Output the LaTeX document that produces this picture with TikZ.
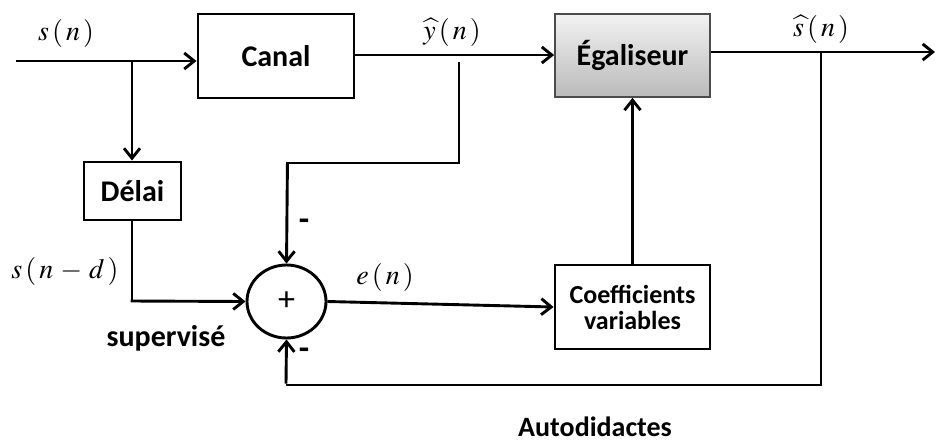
\documentclass[tikz,border=0pt]{standalone}
\usepackage{mathptmx}
\usepackage{fontspec}
\setmainfont{Carlito}
\usetikzlibrary{arrows.meta,shapes.geometric}
\begin{document}
\begin{tikzpicture}[x=1pt,y=-1pt,
  wire/.style={line width=2.9pt},
  arr/.style={wire,-{Straight Barb[length=10pt,width=16pt,line width=2.9pt]}},
  blockbox/.style={draw,line width=2.9pt,inner sep=0pt,font=\bfseries\fontsize{30}{33}\selectfont},
  mlab/.style={inner sep=0pt,font=\fontsize{28}{30}\selectfont},
  tlab/.style={inner sep=0pt,font=\bfseries\fontsize{29}{32}\selectfont}]
\useasboundingbox (0,0) rectangle (936,442);
% blocks
\node[blockbox,minimum width=156pt,minimum height=84pt] (canal) at (276,56) {Canal};
\node[blockbox,draw=black!70,line width=1.7pt,minimum width=155pt,minimum height=83pt,
  top color=black!5,bottom color=black!27] (egal) at (632.5,55.5) {Égaliseur};
\node[blockbox,minimum width=97pt,minimum height=58pt] (delai) at (132.5,191) {Délai};
\node[blockbox,minimum width=155pt,minimum height=84pt,align=center,
  font=\bfseries\fontsize{26}{29}\selectfont] (coef) at (632.5,307) {Coefficients\\[-3pt]variables};
\node[draw,ellipse,line width=2.9pt,minimum width=79pt,minimum height=73pt,inner sep=0pt,
  font=\fontsize{34}{36}\selectfont] (sum) at (286.5,301.5) {+};
% coordinates
\coordinate (in) at (16,61);
\coordinate (br1) at (132,61);
\coordinate (br2) at (459,62);
\coordinate (br2c) at (459,163);
\coordinate (br2d) at (286,163);
\coordinate (out) at (935,52);
\coordinate (br3) at (821,52);
\coordinate (br3c) at (821,385);
\coordinate (br3d) at (286,385);
\coordinate (dl) at (132,301);
% connectors
\draw[arr] (in) -- (canal.west |- in);
\draw[arr] (br1) -- (delai.north -| br1);
\draw[arr] (canal.east |- 0,55) -- (egal.west |- 0,55);
\draw[arr] (egal.east |- out) -- (out);
\draw[wire] (br2) -- (br2c) -- (br2d);
\draw[arr] ([xshift=1.45pt]br2d) -- (sum.north);
\draw[wire] (br3) -- (br3c) -- (br3d);
\draw[arr] ([yshift=1.45pt]br3d) -- (sum.south);
\draw[wire] (delai.south -| dl) -- (dl);
\draw[arr] ([xshift=-1.45pt]dl) -- (sum.west);
\draw[arr] (sum.east) -- (coef.west);
\draw[arr] (coef.north) -- (egal.south);
% labels
\node[mlab] (lsn) at (66,33) {$s\,(\,n\,)$};
\node[mlab] (lyn) at (452,32) {$\widehat{y}\,(\,n\,)$};
\node[mlab] (lshat) at (821,29) {$\widehat{s}\,(\,n\,)$};
\node[mlab] (lsnd) at (65,271) {$s\,(\,n\,-\,d\,)$};
\node[mlab] (len) at (385,277) {$e\,(\,n\,)$};
\node[tlab,font=\bfseries\fontsize{34}{36}\selectfont] (m1) at (304,225) {-};
\node[tlab,font=\bfseries\fontsize{34}{36}\selectfont] (m2) at (304,354) {-};
\node[tlab,font=\bfseries\fontsize{30}{32}\selectfont] (lsup) at (166,338) {supervisé};
\node[tlab,font=\bfseries\fontsize{28}{32}\selectfont] (lauto) at (595,427) {Autodidactes};
\end{tikzpicture}
\end{document}
